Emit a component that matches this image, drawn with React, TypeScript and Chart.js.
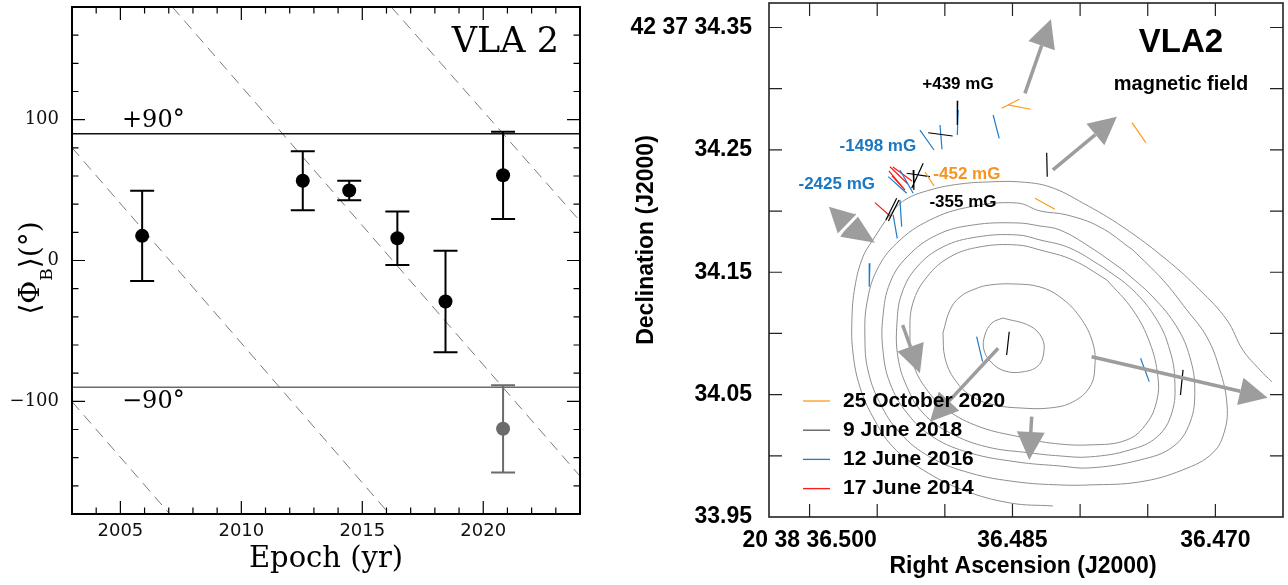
import React, { useEffect, useRef } from 'react';
import { Chart, registerables } from 'chart.js';
Chart.register(...registerables);

// ---------------- Left panel data ----------------
const epochs = [2005.9, 2012.54, 2014.46, 2016.45, 2018.44, 2020.82];
const phiB = [17.5, 56.6, 49.7, 15.8, -29.1, 60.5];
const phiErr = [32, 21, 7, 19, 36, 31];
const wrapEpochs = [2020.82];
const wrapPhiB = [-119.5];
const wrapErr = [31];
const limitLevels = [90, -90];
const limitLabels = ['+90°', '−90°'];
const rotStartX = [2003, 2003, 2007.15, 2016.2];
const rotStartY = [-100.2, 80.1, 180, 180];
const rotEndX = [2007.04, 2016.12, 2024, 2024];
const rotEndY = [-180, -180, -153.1, 28.0];
const epochTickLabels = [2005, 2010, 2015, 2020];
const phiTickLabels = [100, 0, -100];

// ---------------- Right panel data ----------------
const raTicks = [36.5, 36.495, 36.49, 36.485, 36.48, 36.475, 36.47];
const raLabelValues = [36.5, 36.485, 36.47];
const raLabels = ['20 38 36.500', '36.485', '36.470'];
const decTicks = [34.0, 34.05, 34.1, 34.15, 34.2, 34.25, 34.3, 34.35];
const decLabelValues = [34.35, 34.25, 34.15, 34.05, 33.95];
const decLabels = ['42 37 34.35', '34.25', '34.15', '34.05', '33.95'];

const contour1 = [[36.48571,34.1126],[36.48371,34.1061],[36.48282,34.0963],[36.48268,34.0849],[36.48312,34.0734],[36.4843,34.0685],[36.48556,34.0693],[36.48652,34.0759],[36.48711,34.0865],[36.48704,34.0987],[36.48652,34.1085],[36.48571,34.1126]];
const contour2 = [[36.49014,34.1004],[36.48962,34.1192],[36.48888,34.1298],[36.48778,34.1363],[36.48667,34.1396],[36.48482,34.1404],[36.48297,34.138],[36.48149,34.1298],[36.48002,34.1135],[36.47906,34.0922],[36.47891,34.0726],[36.47928,34.0563],[36.48054,34.044],[36.48223,34.0391],[36.48445,34.0391],[36.4863,34.0415],[36.48793,34.0481],[36.48925,34.062],[36.48999,34.08],[36.49014,34.1004]];
const contour3 = [[36.47802,34.1437],[36.48054,34.16],[36.48297,34.1682],[36.48467,34.1723],[36.48741,34.1707],[36.48962,34.1625],[36.49132,34.1462],[36.49236,34.1249],[36.49258,34.1004],[36.49236,34.0759],[36.49132,34.0538],[36.48984,34.0375],[36.48741,34.0236],[36.48445,34.0154],[36.48223,34.0105],[36.47928,34.0089],[36.47654,34.013],[36.47506,34.0268],[36.47432,34.0456],[36.47425,34.0645],[36.47484,34.0922],[36.4761,34.1192],[36.47802,34.1437]];
const contour4 = [[36.47832,34.1543],[36.48076,34.1698],[36.48297,34.1764],[36.48467,34.1805],[36.48763,34.1788],[36.49014,34.1707],[36.49206,34.1543],[36.49317,34.1331],[36.49354,34.1085],[36.49347,34.0808],[36.4928,34.0563],[36.49162,34.035],[36.48962,34.0187],[36.48689,34.0073],[36.48371,34.0024],[36.48149,33.9999],[36.47928,33.9991],[36.47632,34.0048],[36.47432,34.0154],[36.47322,34.035],[36.473,34.062],[36.47337,34.0865],[36.47432,34.111],[36.4761,34.1355],[36.47832,34.1543]];
const contour5 = [[36.47684,34.1519],[36.47928,34.1707],[36.48149,34.1845],[36.48297,34.1878],[36.48467,34.1903],[36.48793,34.1886],[36.49058,34.1805],[36.4928,34.1625],[36.49406,34.1412],[36.49458,34.1135],[36.49458,34.0865],[36.49406,34.0595],[36.4928,34.035],[36.49088,34.0154],[36.48815,34.0024],[36.48467,33.995],[36.48149,33.9917],[36.47928,33.9901],[36.47558,33.9966],[36.47315,34.0073],[36.47189,34.0268],[36.47152,34.0538],[36.47189,34.0808],[36.47285,34.1053],[36.47462,34.1298],[36.47684,34.1519]];
const contour6 = [[36.4761,34.1682],[36.47854,34.187],[36.48097,34.1968],[36.48297,34.2001],[36.48467,34.2066],[36.48815,34.2034],[36.4911,34.1927],[36.49354,34.174],[36.49502,34.1519],[36.49576,34.1249],[36.49591,34.0971],[36.49569,34.0702],[36.4948,34.0432],[36.49332,34.0187],[36.4911,33.9991],[36.48815,33.986],[36.48467,33.9787],[36.48149,33.9762],[36.47928,33.9762],[36.47558,33.9787],[36.47241,33.9885],[36.47019,34.0024],[36.4693,34.0211],[36.46915,34.0432],[36.46967,34.0702],[36.47063,34.0971],[36.47211,34.1192],[36.47388,34.1437],[36.4761,34.1682]];
const contour7 = [[36.48201,33.959],[36.48519,33.9615],[36.48866,33.9721],[36.49162,33.9885],[36.49384,34.0073],[36.49532,34.0318],[36.49628,34.0563],[36.49679,34.084],[36.49687,34.111],[36.49665,34.138],[36.49606,34.1625],[36.49532,34.1764],[36.49406,34.1968],[36.49295,34.2091],[36.4911,34.2172],[36.48888,34.2221],[36.48667,34.2238],[36.48445,34.2238],[36.48223,34.2197],[36.4798,34.2066],[36.47684,34.187],[36.47358,34.16],[36.47115,34.1355],[36.46915,34.111],[36.46797,34.0865],[36.46671,34.0702],[36.46582,34.0604]];

// polarization segments [ra1, dec1, ra2, dec2]
const seg2020 = [[36.4858,34.284,36.4845,34.2914],[36.48531,34.2867,36.48366,34.2832],[36.49147,34.2319,36.4908,34.2206],[36.48334,34.2104,36.48186,34.2014],[36.47617,34.2722,36.47514,34.2559]];
const seg2018 = [[36.48905,34.2902,36.48908,34.2703],[36.49123,34.264,36.48942,34.2613],[36.48247,34.2477,36.48243,34.2281],[36.49234,34.2336,36.49229,34.2172],[36.4916,34.239,36.49245,34.2186],[36.49282,34.2309,36.4911,34.2281],[36.49436,34.1927,36.49356,34.2104],[36.49417,34.1919,36.49339,34.2091],[36.48524,34.1014,36.48543,34.0824],[36.47239,34.0702,36.47258,34.0497]];
const seg2016 = [[36.48901,34.2826,36.48908,34.2621],[36.49184,34.2662,36.4908,34.2499],[36.49036,34.2703,36.49021,34.2505],[36.48643,34.2785,36.48598,34.2594],[36.49418,34.2281,36.49282,34.2145],[36.49332,34.2336,36.49234,34.2145],[36.49382,34.1968,36.49352,34.1777],[36.49332,34.2091,36.49319,34.1873],[36.49554,34.1573,36.49559,34.1382],[36.48765,34.0974,36.48721,34.0769],[36.47553,34.0797,36.47489,34.0606]];
const seg2014 = [[36.49406,34.2362,36.49273,34.2221],[36.49414,34.2328,36.49295,34.2172],[36.49384,34.236,36.49243,34.2246],[36.49391,34.2287,36.49302,34.218],[36.49517,34.2069,36.49401,34.1955]];

// motion arrows [raTail, decTail, raTip, decTip]
const arrows = [[36.48408,34.2962,36.48216,34.3567],[36.48201,34.2336,36.47728,34.2771],[36.49312,34.1069,36.49184,34.0675],[36.48606,34.0879,36.4911,34.0279],[36.48358,34.032,36.48376,33.9966],[36.47915,34.081,36.46614,34.0475]];
const doubleArrowCenter = [36.49716, 34.1886];
const doubleArrowTips = [[36.49857, 34.2036], [36.49517, 34.174]];

const fieldLabels = ['+439 mG', '-1498 mG', '-2425 mG', '-452 mG', '-355 mG'];
const fieldLabelColors = ['#000000', '#1a78c2', '#1a78c2', '#f7941d', '#000000'];
const fieldLabelRA = [36.48903, 36.49495, 36.49799, 36.48837, 36.48866];
const fieldLabelDec = [34.3038, 34.2532, 34.2221, 34.2303, 34.2074];

const legendLabels = ['25 October 2020', '9 June 2018', '12 June 2016', '17 June 2014'];
const legendColors = ['#ff9a1a', '#555555', '#1f7bc8', '#ff1a1a'];
const segColors = ['#ff9a1a', '#000000', '#1f7bc8', '#ff1a1a'];

const SERIF = '"DejaVu Serif", serif';
const SANS = '"Liberation Sans", Arial, Helvetica, sans-serif';

function segData(segs: number[][]) {
  const out: any[] = [];
  segs.forEach((s) => {
    out.push({ x: s[0], y: s[1] });
    out.push({ x: s[2], y: s[3] });
    out.push({ x: s[2], y: null });
  });
  return out;
}

function zeroPad(s: any) {
  s.paddingTop = 0; s.paddingBottom = 0; s.paddingLeft = 0; s.paddingRight = 0;
}

const errorBarPlugin = {
  id: 'errbars',
  beforeDatasetDraw(chart: any, args: any) {
    const ds = chart.data.datasets[args.index];
    if (!ds.errors) return;
    const { ctx } = chart;
    const xs = chart.scales.x, ys = chart.scales.y;
    ctx.save();
    ctx.strokeStyle = ds.errColor;
    ctx.lineWidth = 2;
    ds.data.forEach((p: any, i: number) => {
      const px = xs.getPixelForValue(p.x);
      const yt = ys.getPixelForValue(p.y + ds.errors[i]);
      const yb = ys.getPixelForValue(p.y - ds.errors[i]);
      ctx.beginPath();
      ctx.moveTo(px, yt); ctx.lineTo(px, yb);
      ctx.moveTo(px - 12, yt); ctx.lineTo(px + 12, yt);
      ctx.moveTo(px - 12, yb); ctx.lineTo(px + 12, yb);
      ctx.stroke();
    });
    ctx.restore();
  },
};

const leftDecor = {
  id: 'leftDecor',
  afterDraw(chart: any) {
    const { ctx, chartArea: a } = chart;
    const xs = chart.scales.x, ys = chart.scales.y;
    ctx.save();
    ctx.strokeStyle = '#000';
    ctx.lineWidth = 1.2;
    ctx.beginPath();
    for (let yr = 2004; yr <= 2023; yr++) {
      const px = xs.getPixelForValue(yr);
      const len = yr % 5 === 0 ? 13 : 6.5;
      ctx.moveTo(px, a.bottom); ctx.lineTo(px, a.bottom - len);
      ctx.moveTo(px, a.top); ctx.lineTo(px, a.top + len);
    }
    for (let v = -160; v <= 160; v += 20) {
      const py = ys.getPixelForValue(v);
      const len = v % 100 === 0 ? 13 : 6.5;
      ctx.moveTo(a.left, py); ctx.lineTo(a.left + len, py);
      ctx.moveTo(a.right, py); ctx.lineTo(a.right - len, py);
    }
    ctx.stroke();
    ctx.lineWidth = 2;
    ctx.strokeRect(a.left, a.top, a.right - a.left, a.bottom - a.top);

    ctx.fillStyle = '#000';
    ctx.textBaseline = 'middle';
    ctx.textAlign = 'right';
    ctx.font = `35px ${SERIF}`;
    ctx.fillText('VLA 2', a.right - 21, 43);

    ctx.textAlign = 'left';
    ctx.font = `24px ${SERIF}`;
    ctx.fillText(limitLabels[0], a.left + 50, ys.getPixelForValue(limitLevels[0]) - 13);
    ctx.fillText(limitLabels[1], a.left + 50, ys.getPixelForValue(limitLevels[1]) + 15);

    ctx.textAlign = 'center';
    ctx.font = `29px ${SERIF}`;
    ctx.fillText('Epoch (yr)', (a.left + a.right) / 2, 559);

    // y title with subscript
    ctx.save();
    ctx.translate(28, 268);
    ctx.rotate(-Math.PI / 2);
    const big = `28px ${SERIF}`, small = `17px ${SERIF}`;
    const p1 = '⟨Φ', p2 = 'B', p3 = '⟩(°)';
    ctx.font = big;
    const w1 = ctx.measureText(p1).width, w3 = ctx.measureText(p3).width;
    ctx.font = small;
    const w2 = ctx.measureText(p2).width;
    let sx = -(w1 + w2 + w3) / 2;
    ctx.textAlign = 'left';
    ctx.textBaseline = 'alphabetic';
    ctx.font = big; ctx.fillText(p1, sx, 11); sx += w1;
    ctx.font = small; ctx.fillText(p2, sx, 24); sx += w2;
    ctx.font = big; ctx.fillText(p3, sx, 11);
    ctx.restore();
    ctx.restore();
  },
};

function drawArrow(ctx: CanvasRenderingContext2D, x1: number, y1: number, x2: number, y2: number, color: string) {
  const headLen = 28, headHalf = 14;
  const ang = Math.atan2(y2 - y1, x2 - x1);
  const bx = x2 - headLen * Math.cos(ang), by = y2 - headLen * Math.sin(ang);
  ctx.strokeStyle = color;
  ctx.lineWidth = 3.5;
  ctx.lineCap = 'butt';
  ctx.beginPath(); ctx.moveTo(x1, y1); ctx.lineTo(bx, by); ctx.stroke();
  ctx.fillStyle = color;
  ctx.beginPath();
  ctx.moveTo(x2, y2);
  ctx.lineTo(bx + headHalf * Math.sin(ang), by - headHalf * Math.cos(ang));
  ctx.lineTo(bx - headHalf * Math.sin(ang), by + headHalf * Math.cos(ang));
  ctx.closePath();
  ctx.fill();
}

const rightDecor = {
  id: 'rightDecor',
  afterDatasetsDraw(chart: any) {
    const { ctx } = chart;
    const xs = chart.scales.x, ys = chart.scales.y;
    ctx.save();
    const col = '#9d9d9d';
    arrows.forEach((r) => {
      drawArrow(ctx, xs.getPixelForValue(r[0]), ys.getPixelForValue(r[1]), xs.getPixelForValue(r[2]), ys.getPixelForValue(r[3]), col);
    });
    const cx = xs.getPixelForValue(doubleArrowCenter[0]), cy = ys.getPixelForValue(doubleArrowCenter[1]);
    doubleArrowTips.forEach((t) => {
      const tx = xs.getPixelForValue(t[0]), ty = ys.getPixelForValue(t[1]);
      const ang = Math.atan2(ty - cy, tx - cx);
      ctx.fillStyle = col;
      ctx.beginPath();
      ctx.moveTo(tx, ty);
      ctx.lineTo(cx + 14 * Math.sin(ang), cy - 14 * Math.cos(ang));
      ctx.lineTo(cx - 14 * Math.sin(ang), cy + 14 * Math.cos(ang));
      ctx.closePath();
      ctx.fill();
    });
    {
      const t = doubleArrowTips[0];
      const ang = Math.atan2(ys.getPixelForValue(t[1]) - cy, xs.getPixelForValue(t[0]) - cx);
      ctx.strokeStyle = '#fff';
      ctx.lineWidth = 3;
      ctx.beginPath();
      ctx.moveTo(cx + 16 * Math.sin(ang), cy - 16 * Math.cos(ang));
      ctx.lineTo(cx - 16 * Math.sin(ang), cy + 16 * Math.cos(ang));
      ctx.stroke();
    }
    ctx.restore();
  },
  afterDraw(chart: any) {
    const { ctx, chartArea: a } = chart;
    const xs = chart.scales.x, ys = chart.scales.y;
    ctx.save();
    // texts
    ctx.textBaseline = 'middle';
    ctx.textAlign = 'center';
    ctx.fillStyle = '#000';
    ctx.font = `bold 33px ${SANS}`;
    ctx.fillText('VLA2', 561, 43);
    ctx.font = `bold 20px ${SANS}`;
    ctx.fillText('magnetic field', 561, 84);
    ctx.font = `bold 17px ${SANS}`;
    fieldLabels.forEach((t, i) => {
      ctx.fillStyle = fieldLabelColors[i];
      ctx.fillText(t, xs.getPixelForValue(fieldLabelRA[i]), ys.getPixelForValue(fieldLabelDec[i]));
    });
    // legend
    ctx.textAlign = 'left';
    ctx.font = `bold 21px ${SANS}`;
    legendLabels.forEach((t, i) => {
      const ly = 401 + i * 29.2;
      ctx.strokeStyle = legendColors[i];
      ctx.lineWidth = 1.3;
      ctx.beginPath(); ctx.moveTo(a.left + 34, ly); ctx.lineTo(a.left + 61, ly); ctx.stroke();
      ctx.fillStyle = '#000';
      ctx.fillText(t, a.left + 74, ly);
    });
    // axis titles
    ctx.fillStyle = '#000';
    ctx.textAlign = 'center';
    ctx.font = `bold 23px ${SANS}`;
    ctx.fillText('Right Ascension (J2000)', (a.left + a.right) / 2 - 3, 567);
    ctx.save();
    ctx.translate(27, 240);
    ctx.rotate(-Math.PI / 2);
    ctx.fillText('Declination (J2000)', 0, 0);
    ctx.restore();
    // ticks & frame
    ctx.strokeStyle = '#222';
    ctx.lineWidth = 1.2;
    ctx.beginPath();
    raTicks.forEach((v) => {
      const px = xs.getPixelForValue(v);
      ctx.moveTo(px, a.bottom); ctx.lineTo(px, a.bottom - 13);
      ctx.moveTo(px, a.top); ctx.lineTo(px, a.top + 13);
    });
    decTicks.forEach((v) => {
      const py = ys.getPixelForValue(v);
      ctx.moveTo(a.left, py); ctx.lineTo(a.left + 13, py);
      ctx.moveTo(a.right, py); ctx.lineTo(a.right - 13, py);
    });
    ctx.stroke();
    ctx.lineWidth = 1.6;
    ctx.strokeRect(a.left, a.top, a.right - a.left, a.bottom - a.top);
    ctx.restore();
  },
};

function near(v: number, arr: number[]) {
  return arr.findIndex((t) => Math.abs(t - v) < 1e-7);
}

function leftConfig(): any {
  const datasets: any[] = [
    {
      data: epochs.map((x, i) => ({ x, y: phiB[i] })),
      errors: phiErr, errColor: '#000',
      showLine: false, pointRadius: 7, pointBackgroundColor: '#000', pointBorderColor: '#000', borderWidth: 0,
    },
    {
      data: wrapEpochs.map((x, i) => ({ x, y: wrapPhiB[i] })),
      errors: wrapErr, errColor: '#6b6b6b',
      showLine: false, pointRadius: 7, pointBackgroundColor: '#6b6b6b', pointBorderColor: '#6b6b6b', borderWidth: 0,
    },
    {
      data: [{ x: 2003, y: limitLevels[0] }, { x: 2024, y: limitLevels[0] }],
      borderColor: '#111', borderWidth: 1.5, pointRadius: 0,
    },
    {
      data: [{ x: 2003, y: limitLevels[1] }, { x: 2024, y: limitLevels[1] }],
      borderColor: '#6b6b6b', borderWidth: 1.5, pointRadius: 0,
    },
  ];
  rotStartX.forEach((sx, i) => {
    datasets.push({
      data: [{ x: sx, y: rotStartY[i] }, { x: rotEndX[i], y: rotEndY[i] }],
      borderColor: '#7a7a7a', borderWidth: 1, borderDash: [11, 7], pointRadius: 0,
    });
  });
  return {
    type: 'line',
    data: { datasets },
    options: {
      animation: false, responsive: false, events: [],
      layout: { padding: { top: 6, right: 40, bottom: 0, left: 0 } },
      plugins: { legend: { display: false }, tooltip: { enabled: false } },
      scales: {
        x: {
          type: 'linear', min: 2003, max: 2024,
          afterBuildTicks: (s: any) => { s.ticks = epochTickLabels.map((v) => ({ value: v })); },
          afterFit: (s: any) => { s.height = 71; zeroPad(s); },
          grid: { display: false, drawTicks: false }, border: { display: false },
          ticks: {
            autoSkip: false, maxRotation: 0, minRotation: 0, padding: 7, color: '#111',
            font: { family: '"DejaVu Sans", sans-serif', size: 18 },
            callback: (v: number) => (near(v, epochTickLabels) >= 0 ? String(v) : ''),
          },
        },
        y: {
          type: 'linear', min: -180, max: 180,
          afterBuildTicks: (s: any) => { s.ticks = phiTickLabels.map((v) => ({ value: v })); },
          afterFit: (s: any) => { s.width = 72; zeroPad(s); },
          grid: { display: false, drawTicks: false }, border: { display: false },
          ticks: {
            autoSkip: false, padding: 13, color: '#111',
            font: { family: SERIF, size: 18 },
            callback: (v: number) => (v < 0 ? '−' + Math.abs(v) : String(v)),
          },
        },
      },
    },
    plugins: [errorBarPlugin, leftDecor],
  };
}

function rightConfig(): any {
  const contours = [contour1, contour2, contour3, contour4, contour5, contour6, contour7];
  const segs = [seg2020, seg2018, seg2016, seg2014];
  const datasets: any[] = [];
  segs.forEach((s, i) => {
    datasets.push({ data: segData(s), borderColor: segColors[i], borderWidth: 1.2, pointRadius: 0, spanGaps: false, tension: 0 });
  });
  contours.forEach((c) => {
    datasets.push({ data: c.map((p) => ({ x: p[0], y: p[1] })), borderColor: '#8e8e8e', borderWidth: 1, pointRadius: 0, tension: 0.4 });
  });
  return {
    type: 'line',
    data: { datasets },
    options: {
      animation: false, responsive: false, events: [],
      layout: { padding: { top: 3, right: 5, bottom: 0, left: 0 } },
      plugins: { legend: { display: false }, tooltip: { enabled: false } },
      scales: {
        x: {
          type: 'linear', reverse: true, min: 36.465, max: 36.503,
          afterBuildTicks: (s: any) => { s.ticks = raLabelValues.map((v) => ({ value: v })); },
          afterFit: (s: any) => { s.height = 68; zeroPad(s); },
          grid: { display: false, drawTicks: false }, border: { display: false },
          ticks: {
            autoSkip: false, maxRotation: 0, minRotation: 0, padding: 10, color: '#000',
            font: { family: SANS, size: 23, weight: 'bold' },
            callback: (v: number) => { const k = near(v, raLabelValues); return k >= 0 ? raLabels[k] : ''; },
          },
        },
        y: {
          type: 'linear', min: 33.95, max: 34.37,
          afterBuildTicks: (s: any) => { s.ticks = decLabelValues.map((v) => ({ value: v })); },
          afterFit: (s: any) => { s.width = 149; zeroPad(s); },
          grid: { display: false, drawTicks: false }, border: { display: false },
          ticks: {
            autoSkip: false, padding: 17, color: '#000',
            font: { family: SANS, size: 23, weight: 'bold' },
            callback: (v: number) => { const k = near(v, decLabelValues); return k >= 0 ? decLabels[k] : ''; },
          },
        },
      },
    },
    plugins: [rightDecor],
  };
}

export default function App() {
  const leftRef = useRef<HTMLCanvasElement>(null);
  const rightRef = useRef<HTMLCanvasElement>(null);
  useEffect(() => {
    const c1 = new Chart(leftRef.current as HTMLCanvasElement, leftConfig());
    const c2 = new Chart(rightRef.current as HTMLCanvasElement, rightConfig());
    return () => { c1.destroy(); c2.destroy(); };
  }, []);
  return (
    <div style={{ position: 'absolute', left: 0, top: 0, width: 1288, height: 585, background: '#fff', overflow: 'hidden' }}>
      <canvas ref={leftRef} width={620} height={585} style={{ position: 'absolute', left: 0, top: 0, width: 620, height: 585 }} />
      <canvas ref={rightRef} width={668} height={585} style={{ position: 'absolute', left: 620, top: 0, width: 668, height: 585 }} />
    </div>
  );
}
